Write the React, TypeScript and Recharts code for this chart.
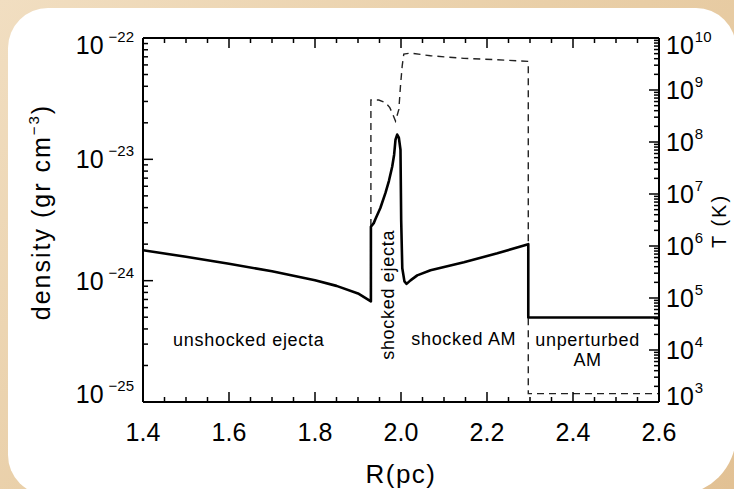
import React from 'react';
import { ComposedChart, Line, XAxis, YAxis, ReferenceDot } from 'recharts';

// ---- data ----
const densityR = [1.40, 1.50, 1.60, 1.70, 1.80, 1.85, 1.90, 1.930, 1.930, 1.9366, 1.9406, 1.952, 1.9639, 1.972, 1.9795, 1.984, 1.9872, 1.9911, 1.9950, 1.9988, 2.0004, 2.0030, 2.0080, 2.0130, 2.0221, 2.0377, 2.0687, 2.1463, 2.2241, 2.296, 2.296, 2.60];
const densityValues = [1.78e-24, 1.575e-24, 1.378e-24, 1.194e-24, 1.006e-24, 9.06e-25, 7.85e-25, 6.75e-25, 2.78e-24, 2.98e-24, 3.22e-24, 3.97e-24, 5.29e-24, 6.65e-24, 8.68e-24, 1.092e-23, 1.45e-23, 1.60e-23, 1.51e-23, 1.20e-23, 3.16e-24, 1.264e-24, 9.87e-25, 9.41e-25, 1.006e-24, 1.106e-24, 1.217e-24, 1.418e-24, 1.682e-24, 2.00e-24, 4.97e-25, 4.97e-25];

const tempR = [1.930, 1.930, 1.9483, 1.9639, 1.9740, 1.9810, 1.9872, 1.9950, 1.9988, 2.0028, 2.0065, 2.0221, 2.0687, 2.1463, 2.2241, 2.296, 2.296, 2.60];
const tempValues = [2.42e6, 6.42e8, 6.42e8, 5.72e8, 4.58e8, 3.40e8, 2.52e8, 4.24e8, 1.20e9, 2.92e9, 4.91e9, 5.13e9, 4.55e9, 4.06e9, 3.81e9, 3.55e9, 1.45e3, 1.45e3];

const rTicks = [1.4, 1.45, 1.5, 1.55, 1.6, 1.65, 1.7, 1.75, 1.8, 1.85, 1.9, 1.95, 2.0, 2.05, 2.1, 2.15, 2.2, 2.25, 2.3, 2.35, 2.4, 2.45, 2.5, 2.55, 2.6];
const rMajorLabels = ['1.4', '1.6', '1.8', '2.0', '2.2', '2.4', '2.6'];
const densityDecades = [-25, -24, -23, -22];
const tempDecades = [3, 4, 5, 6, 7, 8, 9, 10];

const regionLabels = [
  { text: 'unshocked ejecta', r: 1.646, d: 3.25e-25, rotate: false },
  { text: 'shocked ejecta', r: 1.969, d: 7.64e-25, rotate: true },
  { text: 'shocked AM', r: 2.146, d: 3.31e-25, rotate: false },
  { text: 'unperturbed', r: 2.434, d: 3.25e-25, rotate: false },
  { text: 'AM', r: 2.434, d: 2.22e-25, rotate: false },
];

// ---- derived tables ----
const densityData = densityR.map((r, i) => ({ r, density: densityValues[i] }));
const tempData = tempR.map((r, i) => ({ r, temp: tempValues[i] }));

const logTicks = (decades: number[]) => {
  const out: number[] = [];
  for (let i = 0; i < decades.length - 1; i++) {
    for (let m = 1; m <= 9; m++) out.push(Number(`${m}e${decades[i]}`));
  }
  out.push(Number(`1e${decades[decades.length - 1]}`));
  return out;
};
const densityTicks = logTicks(densityDecades);
const tempTicks = logTicks(tempDecades);

const FONT = '"Liberation Sans", Arial, Helvetica, sans-serif';
const INK = '#000';

const decadeOf = (v: number) => {
  const l = Math.log10(v);
  return Math.abs(l - Math.round(l)) < 1e-6 ? Math.round(l) : null;
};
const isMajorR = (v: number) => Math.abs(v * 5 - Math.round(v * 5)) < 1e-6 && rMajorLabels.includes(v.toFixed(1));

const expLabel = (e: number) => (e < 0 ? `\u2212${-e}` : `${e}`);

const BottomTick = (props: any) => {
  const { x, y, payload } = props;
  const v = payload.value as number;
  const major = isMajorR(v);
  return (
    <g>
      <line x1={x} x2={x} y1={y} y2={y - (major ? 10 : 5)} stroke={INK} strokeWidth={1.5} />
      {major && (
        <text x={x} y={y + 39} textAnchor="middle" fontSize={25} fill={INK} fontFamily={FONT}>
          {v.toFixed(1)}
        </text>
      )}
    </g>
  );
};

const TopTick = (props: any) => {
  const { x, y, payload } = props;
  const major = isMajorR(payload.value);
  return <line x1={x} x2={x} y1={y} y2={y + (major ? 10 : 5)} stroke={INK} strokeWidth={1.5} />;
};

const makeSideTick = (side: 'left' | 'right', lo: number, hi: number) => (props: any) => {
  const { x, y, payload } = props;
  const e = decadeOf(payload.value);
  const major = e !== null;
  const len = major ? 10 : 5;
  const dir = side === 'left' ? 1 : -1;
  let base = y + 9;
  if (e === hi) base = y + 16;
  if (e === lo) base = y + (side === 'left' ? 1 : 3);
  return (
    <g>
      <line x1={x} x2={x + dir * len} y1={y} y2={y} stroke={INK} strokeWidth={1.5} />
      {major && (
        <text
          x={side === 'left' ? x - 9 : x + 7}
          y={base}
          textAnchor={side === 'left' ? 'end' : 'start'}
          fontSize={25}
          fill={INK}
          fontFamily={FONT}
        >
          <tspan>10</tspan>
          <tspan dx={side === 'left' ? 5 : 1} dy={-12} fontSize={15}>{expLabel(e as number)}</tspan>
        </text>
      )}
    </g>
  );
};

const LeftTick = makeSideTick('left', densityDecades[0], densityDecades[densityDecades.length - 1]);
const RightTick = makeSideTick('right', tempDecades[0], tempDecades[tempDecades.length - 1]);

const regionLabel = (text: string, rotate: boolean) => (props: any) => {
  const vb = props.viewBox || {};
  const cx = (vb.x ?? 0) + (vb.width ?? 0) / 2;
  const cy = (vb.y ?? 0) + (vb.height ?? 0) / 2;
  return (
    <text
      transform={`translate(${cx},${cy}) rotate(${rotate ? -90 : 0})`}
      textAnchor="middle"
      dominantBaseline="central"
      fontSize={18}
      letterSpacing={0.7}
      fill={INK}
      fontFamily={FONT}
    >
      {text}
    </text>
  );
};

const DensityTitle = (props: any) => {
  const vb = props.viewBox || { x: 0, y: 38, width: 143, height: 364 };
  const cx = vb.x + 50;
  const cy = vb.y + vb.height / 2 - 8;
  return (
    <text transform={`translate(${cx},${cy}) rotate(-90)`} textAnchor="middle" fontSize={25} letterSpacing={2} fill={INK} fontFamily={FONT}>
      <tspan>density (gr cm</tspan>
      <tspan dy={-11} fontSize={15}>{'\u22123'}</tspan>
      <tspan dy={11}>)</tspan>
    </text>
  );
};

const TempTitle = (props: any) => {
  const vb = props.viewBox || { x: 659, y: 38, width: 75, height: 364 };
  const cx = vb.x + 67;
  const cy = vb.y + vb.height / 2 + 1;
  return (
    <text transform={`translate(${cx},${cy}) rotate(-90)`} textAnchor="middle" fontSize={20} letterSpacing={2} fill={INK} fontFamily={FONT}>
      T (K)
    </text>
  );
};

const RTitle = (props: any) => {
  const vb = props.viewBox || { x: 143, y: 402, width: 516, height: 60 };
  return (
    <text x={vb.x + vb.width / 2} y={vb.y + 81} textAnchor="middle" fontSize={26} letterSpacing={1.5} fill={INK} fontFamily={FONT}>
      R(pc)
    </text>
  );
};

export default function App() {
  return (
    <div style={{ position: 'absolute', left: 0, top: 0, width: 734, height: 489, overflow: 'hidden', background: 'linear-gradient(135deg, #F1DEC1 0%, #E9CFA8 45%, #E2C194 100%)' }}>
      <div style={{ position: 'absolute', left: 8, top: 8, width: 728, height: 487, borderRadius: '40px 40px 60px 40px', background: '#fff' }} />
      <div style={{ position: 'absolute', left: 0, top: 0 }}>
        <ComposedChart width={734} height={489} margin={{ top: 8, right: 0, bottom: 27, left: 0 }}>
          <XAxis
            xAxisId="b"
            type="number"
            dataKey="r"
            domain={[1.4, 2.6]}
            allowDataOverflow
            ticks={rTicks}
            interval={0}
            tickSize={0}
            tickMargin={0}
            tickLine={false}
            tick={BottomTick}
            height={60}
            axisLine={{ stroke: INK, strokeWidth: 2 }}
            label={RTitle}
          />
          <XAxis
            xAxisId="t"
            orientation="top"
            type="number"
            dataKey="r"
            domain={[1.4, 2.6]}
            allowDataOverflow
            ticks={rTicks}
            interval={0}
            tickSize={0}
            tickMargin={0}
            tickLine={false}
            tick={TopTick}
            height={30}
            axisLine={{ stroke: INK, strokeWidth: 2 }}
          />
          <YAxis
            yAxisId="d"
            orientation="left"
            scale="log"
            domain={[1e-25, 1e-22]}
            allowDataOverflow
            ticks={densityTicks}
            interval={0}
            tickSize={0}
            tickMargin={0}
            tickLine={false}
            tick={LeftTick}
            width={143}
            axisLine={{ stroke: INK, strokeWidth: 2 }}
            label={DensityTitle}
          />
          <YAxis
            yAxisId="T"
            orientation="right"
            scale="log"
            domain={[1e3, 1e10]}
            allowDataOverflow
            ticks={tempTicks}
            interval={0}
            tickSize={0}
            tickMargin={0}
            tickLine={false}
            tick={RightTick}
            width={75}
            axisLine={{ stroke: INK, strokeWidth: 2 }}
            label={TempTitle}
          />
          <Line
            xAxisId="b"
            yAxisId="T"
            data={tempData}
            dataKey="temp"
            type="linear"
            stroke="#222"
            strokeWidth={1.4}
            strokeDasharray="7 5"
            dot={false}
            activeDot={false}
            isAnimationActive={false}
          />
          <Line
            xAxisId="b"
            yAxisId="d"
            data={densityData}
            dataKey="density"
            type="linear"
            stroke={INK}
            strokeWidth={2.6}
            strokeLinejoin="round"
            dot={false}
            activeDot={false}
            isAnimationActive={false}
          />
          {regionLabels.map((l) => (
            <ReferenceDot
              key={l.text}
              xAxisId="b"
              yAxisId="d"
              x={l.r}
              y={l.d}
              r={0}
              fill="none"
              stroke="none"
              label={regionLabel(l.text, l.rotate)}
            />
          ))}
        </ComposedChart>
      </div>
    </div>
  );
}
